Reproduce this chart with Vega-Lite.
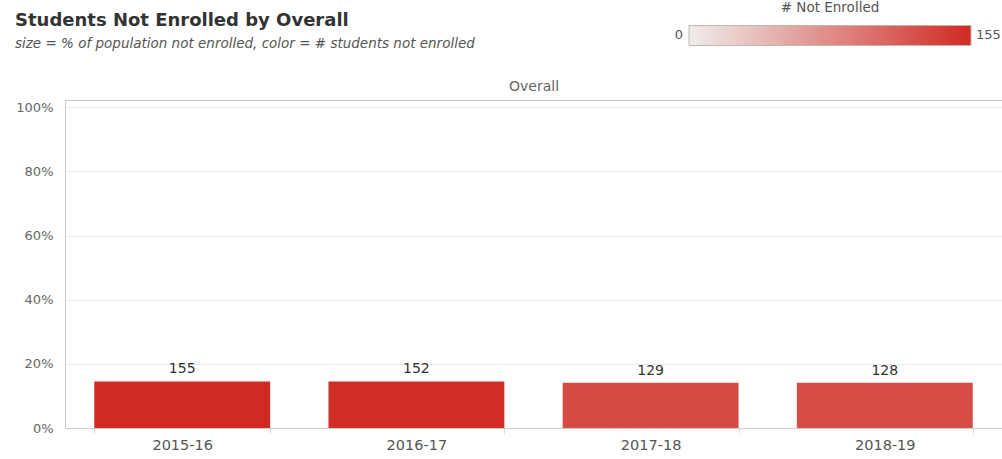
{
  "$schema": "https://vega.github.io/schema/vega-lite/v6.json",
  "autosize": {"type": "none"},
  "width": 937,
  "height": 328,
  "padding": {"left": 65, "top": 100, "right": 0, "bottom": 31},
  "background": "white",
  "title": {
    "text": "Students Not Enrolled by Overall",
    "subtitle": "size = % of population not enrolled, color =  # students not enrolled",
    "anchor": "start",
    "frame": "group",
    "dx": -50,
    "dy": 59,
    "font": "DejaVu Sans",
    "fontSize": 18,
    "fontWeight": "bold",
    "color": "#333333",
    "subtitleFont": "DejaVu Sans",
    "subtitleFontSize": 13.5,
    "subtitleFontStyle": "italic",
    "subtitleColor": "#555555",
    "subtitlePadding": 7,
    "offset": 10
  },
  "config": {"view": {"stroke": null}, "font": "DejaVu Sans"},
  "data": {
    "values": [
      {"year": "2015-16", "pct": 0.145, "count": 155},
      {"year": "2016-17", "pct": 0.145, "count": 152},
      {"year": "2017-18", "pct": 0.141, "count": 129},
      {"year": "2018-19", "pct": 0.141, "count": 128}
    ]
  },
  "resolve": {"axis": {"x": "independent"}},
  "layer": [
    {
      "mark": {"type": "bar"},
      "encoding": {
        "x": {
          "field": "year", "type": "ordinal", "sort": null,
          "scale": {"paddingInner": 0.249, "paddingOuter": 0.125},
          "axis": {"title": null, "labelAngle": 0, "labelFont": "DejaVu Sans", "labelFontSize": 14.5, "labelColor": "#555555", "labelPadding": 4, "domainColor": "#cccccc", "tickBand": "extent", "tickColor": "#e0e0e0", "tickSize": 6, "grid": false}
        },
        "y": {
          "field": "pct", "type": "quantitative",
          "scale": {"domain": [0, 1.0227], "nice": false},
          "axis": {"values": [0, 0.2, 0.4, 0.6, 0.8, 1], "format": ".0%", "grid": true, "gridColor": "#ececec", "domainColor": "#cccccc", "ticks": false, "labelFont": "DejaVu Sans", "labelFontSize": 13, "labelColor": "#666666", "labelPadding": 12, "title": null}
        },
        "color": {
          "field": "count", "type": "quantitative",
          "scale": {"domain": [0, 155], "range": ["#efedeb", "#d12a24"], "interpolate": "rgb"},
          "legend": {
            "orient": "none", "direction": "horizontal", "legendX": 624, "legendY": -99,
            "gradientLength": 282, "gradientThickness": 20,
            "gradientStrokeColor": "#bcb9ae", "gradientStrokeWidth": 1,
            "values": [0, 155],
            "title": "# Not Enrolled", "titleFont": "DejaVu Sans", "titleFontSize": 13.5, "titleFontWeight": "normal", "titleColor": "#555555", "titleAnchor": "middle", "titlePadding": 11,
            "labelFont": "DejaVu Sans", "labelFontSize": 13, "labelColor": "#555555", "labelBaseline": "middle", "labelOffset": -17, "labelOverlap": false,
            "padding": 0,
            "encode": {"labels": {"update": {"align": {"signal": "datum.perc < 0.5 ? 'right' : 'left'"}, "dx": {"signal": "datum.perc < 0.5 ? -6 : 5"}}}}
          }
        }
      }
    },
    {
      "mark": {"type": "text", "baseline": "bottom", "dy": -5, "font": "DejaVu Sans", "fontSize": 14, "color": "#333333"},
      "encoding": {
        "x": {
          "field": "year", "type": "ordinal", "sort": null,
          "axis": {"orient": "top", "labels": false, "ticks": false, "domain": true, "domainColor": "#c4c4c4", "title": "Overall", "titleFont": "DejaVu Sans", "titleFontSize": 14, "titleFontWeight": "normal", "titleColor": "#666666", "titlePadding": 7, "grid": false}
        },
        "y": {"field": "pct", "type": "quantitative"},
        "text": {"field": "count", "type": "quantitative"}
      }
    }
  ]
}
